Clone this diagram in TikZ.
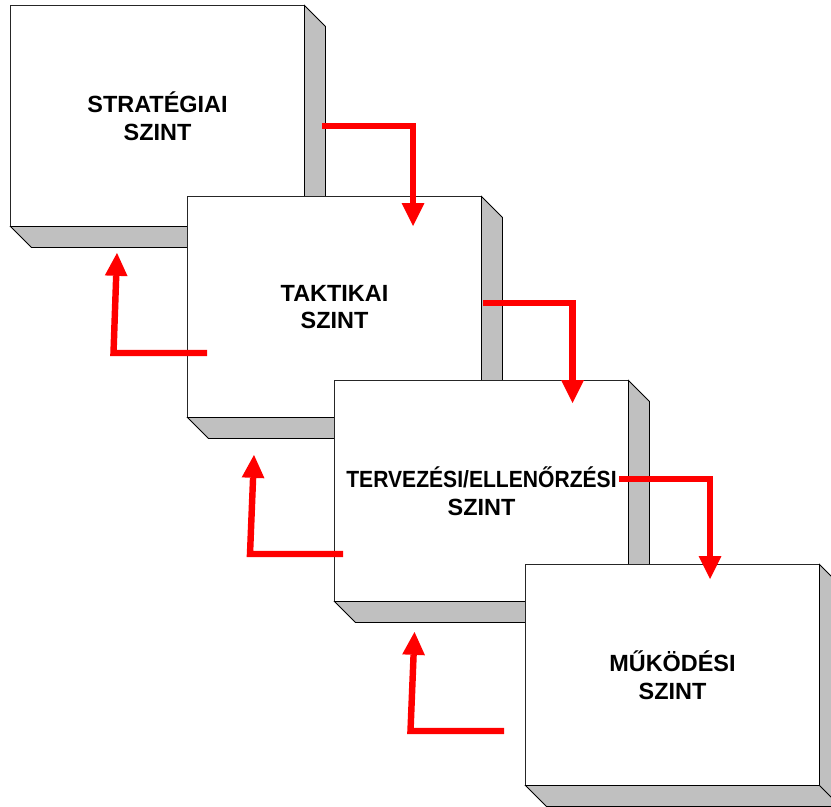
\documentclass[tikz,border=0pt]{standalone}
\usepackage{fontspec}
\setmainfont{Liberation Sans}
\usetikzlibrary{arrows.meta}

\definecolor{sidegray}{RGB}{192,192,192}
\tikzset{
  level/.style={draw=black!85, line width=0.8pt, fill=white, outer sep=0pt,
    minimum width=8.82cm, minimum height=6.63cm, align=center,
    font=\fontsize{20}{23.5}\selectfont\bfseries},
  sideface/.style={draw=black, line width=0.8pt, fill=sidegray},
  flow/.style={draw=red, line width=5.5pt,
    -{Triangle[length=19.5pt,width=19.5pt,line width=0pt]}},
}

% side and bottom faces of a level box
\newcommand{\sidefaces}[1]{%
  \draw[sideface] (#1.north east) -- ++(21,21) -- ([shift={(21,21)}]#1.south east)
    -- ([shift={(21,21)}]#1.south west) -- (#1.south west) -- (#1.south east) -- cycle;
  \draw[sideface] (#1.south east) -- ++(21,21);}

\begin{document}
\begin{tikzpicture}[x=0.03cm,y=-0.03cm]
  \useasboundingbox (0,0) rectangle (831,807);
  % levels
  \node[level] (strat) at (157.5,116) {STRATÉGIAI\\SZINT};
  \sidefaces{strat}
  \node[level] (takt) at (334.5,307) {TAKTIKAI\\SZINT};
  \sidefaces{takt}
  \node[level] (terv) at (481.5,491) {\scalebox{0.9}[1]{TERVEZÉSI/ELLENŐRZÉSI}\\SZINT};
  \sidefaces{terv}
  \node[level] (muk) at (672.5,675) {MŰKÖDÉSI\\SZINT};
  \sidefaces{muk}
  % arrow end points
  \coordinate (a1s) at (322,126);   \coordinate (a1e) at (413,226);
  \coordinate (a2s) at (483,303);   \coordinate (a2e) at (572.5,403);
  \coordinate (a3s) at (619,479);   \coordinate (a3e) at (710,579);
  \coordinate (b1s) at (207,353);   \coordinate (b1c) at (113.5,353);
  \coordinate (b1e) at (117,253);
  \coordinate (b2s) at (343,554);   \coordinate (b2c) at (250,554);
  \coordinate (b2e) at (254,455);
  \coordinate (b3s) at (504,731);   \coordinate (b3c) at (410.5,731);
  \coordinate (b3e) at (414.5,632);
  % downwards
  \draw[flow] (a1s) -| (a1e);
  \draw[flow] (a2s) -| (a2e);
  \draw[flow] (a3s) -| (a3e);
  % feedback
  \draw[flow] (b1s) -- (b1c) -- (b1e);
  \draw[flow] (b2s) -- (b2c) -- (b2e);
  \draw[flow] (b3s) -- (b3c) -- (b3e);
\end{tikzpicture}
\end{document}
